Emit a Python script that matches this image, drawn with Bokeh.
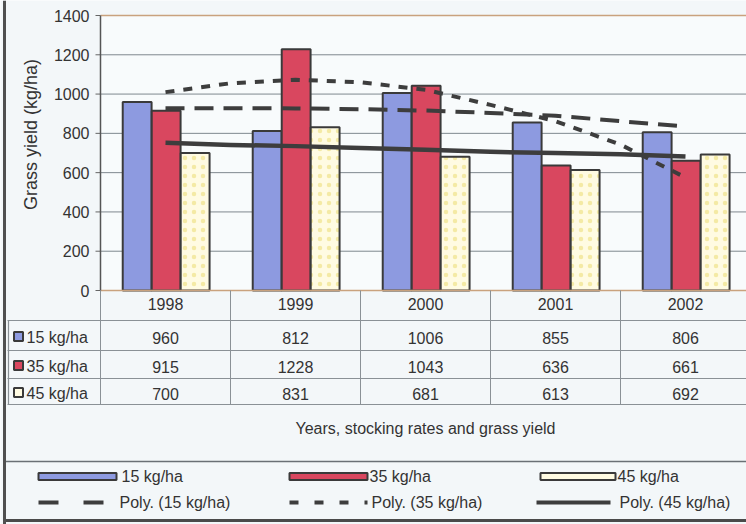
from math import pi
from bokeh.plotting import figure
from bokeh.models import Range1d
from bokeh.core.properties import value
from bokeh.embed import file_html
from bokeh.resources import INLINE

# ---------------- data ----------------
years = ["1998", "1999", "2000", "2001", "2002"]
yield_15 = [960, 812, 1006, 855, 806]
yield_35 = [915, 1228, 1043, 636, 661]
yield_45 = [700, 831, 681, 613, 692]
series_names = ["15 kg/ha", "35 kg/ha", "45 kg/ha"]

trend_x = [0, 0.5, 1, 1.5, 2, 2.5, 3, 3.5, 4]
poly_15 = [928, 928, 927, 923, 916, 904, 890, 862, 835]
poly_35 = [1010, 1055, 1073, 1060, 1022, 945, 862, 743, 575]
poly_45 = [752, 741, 735, 725, 717, 706, 700, 694, 682]
trend_names = ["Poly. (15 kg/ha)", "Poly. (35 kg/ha)", "Poly. (45 kg/ha)"]

y_ticks = [0, 200, 400, 600, 800, 1000, 1200, 1400]
x_title = "Years, stocking rates and grass yield"
y_title = "Grass yield (kg/ha)"

# ---------------- style / layout constants ----------------
W, H = 746, 524
FRAME_L, CAT_W = 100, 130          # plot-area left edge (px) and category width (px)
Y0_PX, YTOP_PX, YMAX = 290, 15, 1400
FONT = value("Liberation Sans")
FS = "16px"
BG = "#f3f7f9"
TXT = "#333333"
EDGE = "#3a3a3a"
GRID = "#7f888e"
LINE = "#8a9196"
COLORS = ["#8d9ae0", "#d9475f", "#fffbe2"]
TREND_COLOR = "#3d3d3d"
TREND_DASH = ["19 10", "9 9", "solid"]


def px(x):
    """page x pixel -> category axis units"""
    return -0.5 + (x - FRAME_L) / CAT_W


XMIN, XMAX = px(0), px(W)
k = YMAX / (Y0_PX - YTOP_PX)        # value units per pixel
y_lo = (Y0_PX - H) * k
y_hi = Y0_PX * k

p = figure(width=W, height=H, x_range=Range1d(XMIN, XMAX), y_range=Range1d(y_lo, y_hi),
           output_backend="svg", toolbar_location=None, x_axis_type=None, y_axis_type=None,
           min_border=0)
p.extra_y_ranges = {"px": Range1d(H, 0)}
p.background_fill_color = BG
p.border_fill_color = BG
p.outline_line_color = None
p.grid.visible = False

xs = list(range(len(years)))
n = len(y_ticks)

# plot area background + grid
p.quad(left=[-0.5], right=[XMAX], bottom=[0], top=[YMAX], fill_color="#f8fbfc", line_color=None)
p.segment(x0=[-0.5] * n, y0=y_ticks, x1=[XMAX] * n, y1=y_ticks, line_color=GRID, line_width=1)
p.segment(x0=[px(95)] * n, y0=y_ticks, x1=[-0.5] * n, y1=y_ticks, line_color="#666666", line_width=1)

tkw = dict(text_font=FONT, text_font_size=FS, text_color=TXT, text_baseline="middle")
p.text(x=[px(89)] * n, y=y_ticks, text=[str(t) for t in y_ticks], text_align="right", **tkw)

# bars
offsets = [-0.218, 0.005, 0.228]
bw = 0.222
for vals, off, col in zip([yield_15, yield_35, yield_45], offsets, COLORS):
    kw = {}
    if col == COLORS[2]:
        kw = dict(hatch_pattern="dot", hatch_color="#efe28a", hatch_alpha=0.7, hatch_scale=9)
    p.vbar(x=[x + off for x in xs], top=vals, width=bw, bottom=0,
           fill_color=col, line_color=EDGE, line_width=2, **kw)

# plot area border lines
p.segment(x0=[-0.5, -0.5], y0=[YMAX, 0], x1=[XMAX, XMAX], y1=[YMAX, 0],
          line_color="#c9a27e", line_width=1.5)
p.segment(x0=[-0.5], y0=[0], x1=[-0.5], y1=[YMAX], line_color="#555555", line_width=1.5)

# trend lines
for tv, dash in zip([poly_15, poly_35, poly_45], TREND_DASH):
    p.line(trend_x, tv, line_color=TREND_COLOR, line_width=4 if dash != "solid" else 4.5,
           line_dash=dash, line_cap="butt", line_join="round")

# y title
p.text(x=[px(30)], y=[134], y_range_name="px", text=[y_title], angle=pi / 2,
       text_align="center", text_baseline="middle", text_font=FONT, text_font_size="18px",
       text_color=TXT)

# ---------------- data table ----------------
bounds = [i - 0.5 for i in range(len(years) + 1)]
nb = len(bounds)
p.segment(x0=bounds, y0=[290] * nb, x1=bounds, y1=[404] * nb, y_range_name="px",
          line_color=LINE, line_width=1)
hl = [320, 350, 378, 404]
p.segment(x0=[px(7)] * 4, y0=hl, x1=[XMAX] * 4, y1=hl, y_range_name="px",
          line_color=LINE, line_width=1.2)
p.segment(x0=[px(8)], y0=[320], x1=[px(8)], y1=[404], y_range_name="px",
          line_color=LINE, line_width=1.2)

p.text(x=xs, y=[303] * 5, y_range_name="px", text=years, text_align="center", **tkw)
row_y = [337, 366, 393]
for vals, ry, name, col in zip([yield_15, yield_35, yield_45], row_y, series_names, COLORS):
    p.text(x=xs, y=[ry] * 5, y_range_name="px", text=[str(v) for v in vals],
           text_align="center", **tkw)
    p.scatter(x=[px(18)], y=[ry - 1], y_range_name="px", marker="square", size=9,
              fill_color=col, line_color=EDGE, line_width=2)
    p.text(x=[px(26)], y=[ry], y_range_name="px", text=[name], text_align="left", **tkw)

p.text(x=[2], y=[428], y_range_name="px", text=[x_title], text_align="center", **tkw)

# ---------------- legend ----------------
p.segment(x0=[px(5)], y0=[461], x1=[XMAX], y1=[461], y_range_name="px",
          line_color="#6a7075", line_width=1.5)
p.segment(x0=[px(3)], y0=[520], x1=[XMAX], y1=[520], y_range_name="px",
          line_color="#4a4a4a", line_width=3)

sw_left = [38, 289, 540]
sw_right = [116, 367, 615]
tx1 = [121, 369, 617]
tx2 = [119, 371, 619]
leg_dash = ["20 25", "9 16", "solid"]
for i in range(3):
    p.quad(left=[px(sw_left[i])], right=[px(sw_right[i])], top=[472.5], bottom=[479.5],
           y_range_name="px", fill_color=COLORS[i], line_color=EDGE, line_width=2)
    p.text(x=[px(tx1[i])], y=[476], y_range_name="px", text=[series_names[i]],
           text_align="left", **tkw)
    p.text(x=[px(tx2[i])], y=[502], y_range_name="px", text=[trend_names[i]],
           text_align="left", **tkw)
    p.segment(x0=[px(sw_left[i] - (4 if i == 2 else 0))], y0=[502],
              x1=[px(sw_right[i] - (5 if i != 1 else 0))], y1=[502], y_range_name="px",
              line_color=TREND_COLOR, line_width=4, line_dash=leg_dash[i], line_cap="butt")

# outer left border
p.segment(x0=[px(4)], y0=[0], x1=[px(4)], y1=[H], y_range_name="px",
          line_color="#505050", line_width=3)

open("out.html", "w").write(file_html(p, INLINE))
